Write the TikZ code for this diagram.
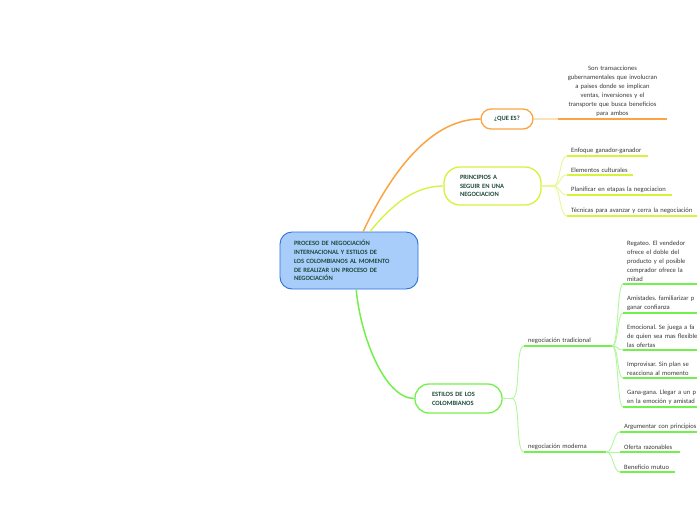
\documentclass[tikz,border=0pt]{standalone}
\usepackage{fontspec}
\setmainfont{Carlito}
\usepackage{xcolor}
\usepackage{tikz}
\definecolor{ctrfill}{HTML}{A9CDFB}
\definecolor{ctrline}{HTML}{2A6FDB}
\definecolor{nodetext}{HTML}{1D4A3A}
\definecolor{leaftext}{HTML}{3A3A3A}
\definecolor{orng}{HTML}{FAA541}
\definecolor{orngpale}{HTML}{FCE0BA}
\definecolor{lime}{HTML}{D6F23A}
\definecolor{limepale}{HTML}{E6F89A}
\definecolor{grn}{HTML}{74F04C}
\definecolor{grnpale}{HTML}{B0F79E}
\newcommand{\bend}[4]{\draw[#1] (#2) .. controls +(#3,0) and +(-#3,0) .. (#4);}
\frenchspacing

\begin{document}
\begin{tikzpicture}[x=1pt, y=-1pt,
  hub/.style={draw=ctrline, fill=ctrfill, line width=0.9pt, rounded corners=12pt, text=nodetext,
    font=\fontsize{6.5}{8.8}\selectfont\bfseries, align=left},
  topic/.style={fill=white, line width=1.3pt, text=nodetext,
    font=\fontsize{6.5}{8.8}\selectfont\bfseries, align=left},
  leaf/.style={anchor=south west, inner xsep=4pt, inner ysep=2pt, text=leaftext,
    font=\fontsize{6.6}{9}\selectfont, align=left},
  uline/.style={line width=1.4pt}]
\useasboundingbox (0,0) rectangle (697,520);
\fill[white] (0,0) rectangle (697,520);
\clip (0,0) rectangle (697,520);

% main topics
\node[hub, text width=110pt, inner xsep=14pt, minimum height=57pt] (ctr) at (349,260.5)
  {PROCESO DE NEGOCIACIÓN\\INTERNACIONAL Y ESTILOS DE\\LOS COLOMBIANOS AL MOMENTO\\DE REALIZAR UN PROCESO DE\\NEGOCIACIÓN};
\node[topic, draw=orng, minimum width=52pt, minimum height=20pt, rounded corners=10pt, align=center] (qes) at (507,119) {¿QUE ES?};
\node[topic, draw=lime, text width=65pt, inner xsep=16pt, minimum height=38pt, rounded corners=16pt] (pri) at (492.5,186)
  {PRINCIPIOS A\\SEGUIR EN UNA\\NEGOCIACION};
\node[topic, draw=grn, text width=53pt, inner xsep=17pt, minimum height=29pt, rounded corners=14pt] (est) at (458.5,398.5)
  {ESTILOS DE LOS\\COLOMBIANOS};

\draw[orng, line width=1.5pt] (ctr.64) .. controls +(22,-47) and +(-55,0) .. (qes.west);
\draw[lime, line width=1.3pt] (ctr.54) .. controls +(22,-27) and +(-29,0) .. (pri.west);
\draw[grn, line width=1.5pt] (ctr.284) .. controls +(4,46) and +(-30,0) .. (est.west);

% que es
\node[leaf, anchor=south, text width=101pt, align=center] (def) at (612.5,119)
  {Son transacciones\\gubernamentales que involucran\\a paises donde se implican\\ventas, inversiones y el\\transporte que busca beneficios\\para ambos};
\draw[uline, orngpale] (qes.east) -- (def.south west);
\draw[uline, orng] (def.south west) -- (def.south east);

% principios
\coordinate (pj) at (553,186);
\node[leaf, text width=73pt] (p1) at (567,156) {Enfoque ganador-ganador};
\node[leaf, text width=58pt] (p2) at (567,175) {Elementos culturales};
\node[leaf, text width=97pt] (p3) at (567,195) {Planificar en etapas la negociacion};
\node[leaf, text width=140pt] (p4) at (567,216) {Técnicas para avanzar y cerra la negociación};
\draw[limepale, line width=1.1pt] (pri.east) -- (pj);
\bend{limepale, line width=0.9pt}{pj}{8}{p1.south west}
\bend{limepale, line width=0.9pt}{pj}{8}{p2.south west}
\bend{limepale, line width=0.9pt}{pj}{8}{p3.south west}
\bend{limepale, line width=0.9pt}{pj}{8}{p4.south west}
\draw[uline, lime] (p1.south west) -- (p1.south east);
\draw[uline, lime] (p2.south west) -- (p2.south east);
\draw[uline, lime] (p3.south west) -- (p3.south east);
\draw[uline, lime] (p4.south west) -- (p4.south east);

% estilos
\coordinate (ej) at (512,398.5);
\node[leaf, text width=80pt] (trad) at (524,346) {negociación tradicional};
\node[leaf, text width=74pt] (mod) at (524,452) {negociación moderna};
\draw[grnpale, line width=1.1pt] (est.east) -- (ej);
\bend{grnpale, line width=0.9pt}{ej}{9}{trad.south west}
\bend{grnpale, line width=0.9pt}{ej}{9}{mod.south west}
\draw[uline, grn] (trad.south west) -- (trad.south east);
\draw[uline, grn] (mod.south west) -- (mod.south east);

\node[leaf, text width=80pt] (t1) at (623,284) {Regateo. El vendedor\\ofrece el doble del\\producto y el posible\\comprador ofrece la\\mitad};
\node[leaf, text width=80pt] (t2) at (623,313) {Amistades. familiarizar p\\ganar confianza};
\node[leaf, text width=80pt] (t3) at (623,350) {Emocional. Se juega a fa\\de quien sea mas flexible\\las ofertas};
\node[leaf, text width=80pt] (t4) at (623,378) {Improvisar. Sin plan se\\reacciona al momento};
\node[leaf, text width=80pt] (t5) at (623,407) {Gana-gana. Llegar a un p\\en la emoción y amistad};
\bend{grnpale, line width=0.9pt}{trad.south east}{6}{t1.south west}
\bend{grnpale, line width=0.9pt}{trad.south east}{6}{t2.south west}
\bend{grnpale, line width=0.9pt}{trad.south east}{6}{t3.south west}
\bend{grnpale, line width=0.9pt}{trad.south east}{6}{t4.south west}
\bend{grnpale, line width=0.9pt}{trad.south east}{6}{t5.south west}
\draw[uline, grn] (t1.south west) -- (t1.south east);
\draw[uline, grn] (t2.south west) -- (t2.south east);
\draw[uline, grn] (t3.south west) -- (t3.south east);
\draw[uline, grn] (t4.south west) -- (t4.south east);
\draw[uline, grn] (t5.south west) -- (t5.south east);

\node[leaf, text width=80pt] (m1) at (620,432) {Argumentar con principios};
\node[leaf, text width=52pt] (m2) at (620,452) {Oferta razonables};
\node[leaf, text width=47pt] (m3) at (620,472) {Beneficio mutuo};
\bend{grnpale, line width=0.9pt}{mod.south east}{7}{m1.south west}
\bend{grnpale, line width=0.9pt}{mod.south east}{7}{m2.south west}
\bend{grnpale, line width=0.9pt}{mod.south east}{7}{m3.south west}
\draw[uline, grn] (m1.south west) -- (m1.south east);
\draw[uline, grn] (m2.south west) -- (m2.south east);
\draw[uline, grn] (m3.south west) -- (m3.south east);
\end{tikzpicture}
\end{document}
